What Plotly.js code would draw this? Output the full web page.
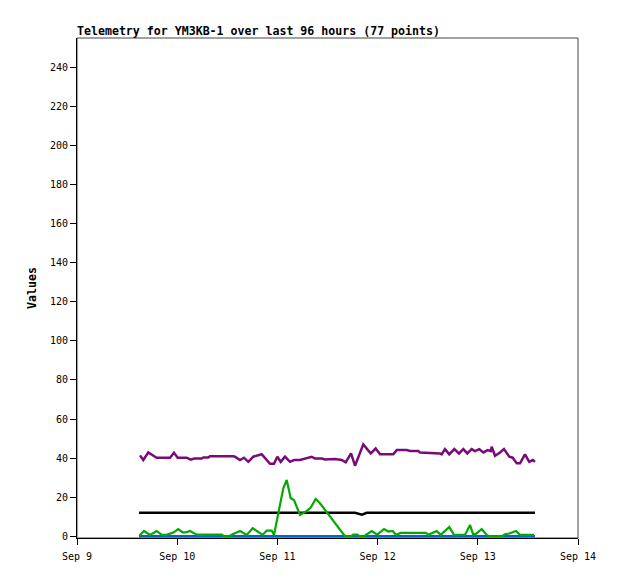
<!DOCTYPE html>
<html>
<head>
<meta charset="utf-8">
<script src="https://cdn.plot.ly/plotly-3.0.1.min.js"></script>
<style>
html,body{margin:0;padding:0;background:#fff;}
#chart{width:618px;height:579px;}
</style>
</head>
<body>
<div id="chart"></div>
<script>
// Hours elapsed since Sep 9 00:00 for each reading
var purpleHours = [15.09,15.88,17.08,18.28,19.09,22.28,23.23,24.12,26.28,27.23,28.10,29.87,30.25,31.45,31.86,37.44,37.84,39.04,40.00,41.03,42.23,44.24,45.03,46.23,47.19,47.98,48.79,49.82,51.02,51.98,53.41,54.61,56.22,57.01,58.61,59.40,61.80,63.40,64.36,65.63,66.59,68.57,70.35,71.54,72.57,75.76,76.57,78.97,79.76,81.75,82.16,86.95,87.35,88.14,89.17,90.37,91.50,92.53,93.48,94.54,95.33,96.36,97.32,98.37,99.09,99.33,100.12,101.32,102.27,103.54,104.36,105.32,106.11,107.30,108.33,109.15,109.70];
var purpleValues = [41.4,39.0,42.9,41.5,40.2,40.2,42.7,40.2,40.2,39.2,39.8,39.8,40.3,40.3,40.9,40.9,40.7,39.0,40.2,38.1,40.7,42.0,40.2,37.1,37.1,40.7,38.1,40.7,38.1,39.0,39.0,39.8,40.7,39.8,39.8,39.3,39.5,39.0,37.8,42.4,36.1,47.0,42.4,44.9,42.0,42.0,44.1,44.1,43.6,43.6,42.9,42.4,41.9,44.6,41.9,44.6,42.4,44.6,42.4,44.6,43.6,44.6,42.9,44.1,43.6,45.8,41.2,42.9,44.6,40.7,40.2,37.3,37.3,41.9,38.1,39.0,38.1];

var greenHours = [14.92,16.05,17.48,19.09,20.29,21.48,23.07,24.26,25.32,26.11,27.07,28.67,34.66,35.21,36.41,37.05,39.04,40.65,42.08,43.43,44.48,45.44,46.63,47.19,48.62,49.41,50.23,51.18,51.98,53.41,55.02,55.98,57.17,58.20,63.95,64.43,65.63,66.18,67.14,67.66,68.74,69.39,70.59,71.93,73.53,74.56,75.62,76.41,77.53,83.59,84.14,86.15,87.11,89.17,90.30,92.93,94.13,94.92,95.74,96.93,98.13,98.68,101.80,102.52,103.54,105.15,106.11,109.46];
var greenValues = [0.3,2.7,0.7,2.7,0.7,0.7,1.9,3.7,2.0,2.0,2.7,0.8,0.8,0,0,0.8,2.7,0.7,4.1,2.0,0.7,2.9,2.9,0.7,15.2,24.5,28.8,19.4,18.5,10.9,12.9,14.7,19.1,16.9,0.7,0,0,0.8,0.8,0,0,0.8,2.7,0.8,3.7,2.4,2.7,0.7,1.7,1.7,0.7,2.7,0.7,4.7,0.7,0.7,5.8,0.7,1.5,3.7,0.7,0,0,1.0,1.4,2.7,0.7,0.7];

var blackHours = [14.85,66.59,68.26,69.39,109.70];
var blackValues = [12,12,11,12,12];

var blueHours = [14.85,109.70];
var blueValues = [0,0];

var xTickLabels = ["Sep 9","Sep 10","Sep 11","Sep 12","Sep 13","Sep 14"];

function toDate(h){
  var base = Date.UTC(2024,8,9,0,0,0);
  var d = new Date(base + h*3600000);
  return d.toISOString().replace('T',' ').slice(0,19);
}
var tickVals = xTickLabels.map(function(_,i){return toDate(i*24);});

var traces = [
  {x: blueHours.map(toDate), y: blueValues, mode:'lines', line:{color:'#0066cc', width:2.5}, hoverinfo:'none'},
  {x: blackHours.map(toDate), y: blackValues, mode:'lines', line:{color:'#000000', width:2.5}, hoverinfo:'none'},
  {x: greenHours.map(toDate), y: greenValues, mode:'lines', line:{color:'#00aa00', width:2.2}, hoverinfo:'none'},
  {x: purpleHours.map(toDate), y: purpleValues, mode:'lines', line:{color:'#7a0a7a', width:2.5}, hoverinfo:'none'}
];

var mono = 'DejaVu Sans Mono, monospace';
var layout = {
  width:618, height:579,
  margin:{l:77, r:40, t:38, b:41},
  paper_bgcolor:'#fff', plot_bgcolor:'#fff',
  showlegend:false,
  title:{text:'<b>Telemetry for YM3KB-1 over last 96 hours (77 points)</b>', x:77/618, xanchor:'left', y:1-35/579, yanchor:'bottom', font:{family:mono, size:11.6, color:'#000'}},
  xaxis:{type:'date', range:[toDate(0), toDate(120)], tickvals:tickVals, ticktext:xTickLabels,
    ticks:'outside', ticklen:6, tickcolor:'#000', showline:true, linecolor:'#000', linewidth:1,
    layer:'below traces', ticklabelstandoff:3,
    showgrid:false, zeroline:false, tickfont:{family:mono, size:10, color:'#000'}},
  yaxis:{range:[-0.9,255], tickvals:[0,20,40,60,80,100,120,140,160,180,200,220,240],
    ticks:'outside', ticklen:6, tickcolor:'#000', showline:true, linecolor:'#000', linewidth:1,
    layer:'below traces',
    showgrid:false, zeroline:false, tickfont:{family:mono, size:10, color:'#000'},
    title:{text:'<b>Values</b>', font:{family:mono, size:11.6, color:'#000'}, standoff:10}},
  shapes:[{type:'rect', xref:'paper', yref:'paper', x0:0, x1:1, y0:0, y1:1, line:{color:'#444', width:1}, layer:'below'}]
};

Plotly.newPlot('chart', traces, layout, {staticPlot:true, displayModeBar:false});
</script>
</body>
</html>
